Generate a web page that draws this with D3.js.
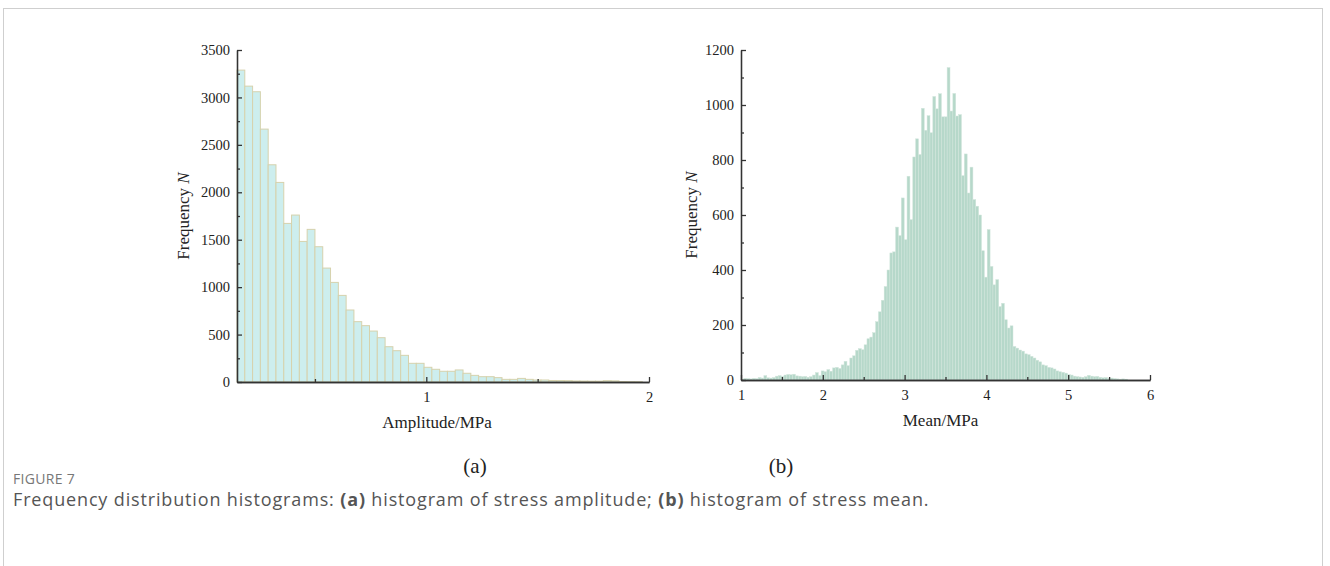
<!DOCTYPE html>
<html>
<head>
<meta charset="utf-8">
<script src="https://cdn.jsdelivr.net/npm/d3@7"></script>
<style>
  body { margin: 0; background: #fff; }
  svg { display: block; }
</style>
</head>
<body>
<svg id="fig" width="1330" height="566"></svg>
<script>
// ---- data -------------------------------------------------------------
// Histogram bins share one width (MPa); each series gives its first bin edge.
const binWidth = 0.035;

// (a) stress amplitude
const ampStart = 0.15;
const ampCounts = [
  3288, 3119, 3060, 2666, 2290, 2104, 1672, 1760, 1482, 1609,
  1426, 1201, 1050, 913, 759, 636, 594, 537, 467, 372,
  330, 281, 197, 197, 155, 134, 113, 113, 127, 92,
  70, 56, 56, 46, 28, 28, 38, 28, 21, 21,
  16, 15, 14, 11, 10, 9, 9, 14, 12, 5,
  4, 3
];

// (b) stress mean
const meanStart = 1.0;
const meanCounts = [
  3, 6, 5, 4, 6, 5, 9, 7, 16, 8,
  7, 9, 14, 16, 13, 18, 20, 19, 21, 15,
  14, 12, 13, 10, 12, 18, 27, 16, 33, 30,
  38, 32, 44, 46, 42, 55, 68, 52, 80, 88,
  108, 114, 110, 128, 150, 156, 172, 212, 248, 290,
  340, 400, 462, 466, 556, 525, 662, 510, 741, 583,
  811, 877, 820, 988, 908, 961, 899, 1031, 986, 1041,
  957, 957, 1136, 978, 1042, 960, 965, 743, 822, 680,
  774, 656, 632, 600, 470, 374, 547, 413, 346, 365,
  267, 279, 219, 189, 197, 122, 116, 109, 105, 95,
  92, 86, 80, 72, 66, 55, 52, 46, 44, 40,
  33, 30, 28, 25, 20, 18, 14, 12, 11, 10,
  12, 17, 14, 12, 13, 10, 8, 9, 6, 7,
  5, 4, 3, 4, 3
];

// axis ticks
const ampXTicks = [1, 2];
const ampXMinor = [0.5, 1.5];
const ampYTicks = [0, 500, 1000, 1500, 2000, 2500, 3000, 3500];
const ampYMinor = [250, 750, 1250, 1750, 2250, 2750, 3250];
const meanXTicks = [1, 2, 3, 4, 5, 6];
const meanXMinor = [1.5, 2.5, 3.5, 4.5, 5.5];
const meanYTicks = [0, 200, 400, 600, 800, 1000, 1200];
const meanYMinor = [100, 300, 500, 700, 900, 1100];

// ---- drawing ----------------------------------------------------------
const svg = d3.select("#fig");
const serif = "'Liberation Serif', 'Times New Roman', serif";
const axisColor = "#333";
const intFmt = d3.format("d");

// page frame
svg.append("rect")
  .attr("x", 3.5).attr("y", 8.5)
  .attr("width", 1319).attr("height", 560)
  .attr("fill", "none").attr("stroke", "#cfcfcf").attr("stroke-width", 1);

function histogram(opt) {
  const g = svg.append("g");
  const x = d3.scaleLinear().domain(opt.xDomain).range(opt.xRange);
  const y = d3.scaleLinear().domain(opt.yDomain).range(opt.yRange);

  const bins = opt.counts.map((c, i) => ({
    x0: opt.start + i * binWidth,
    x1: opt.start + (i + 1) * binWidth,
    n: c
  }));

  g.append("g").selectAll("rect")
    .data(bins)
    .join("rect")
    .attr("x", d => x(d.x0))
    .attr("width", d => x(d.x1) - x(d.x0))
    .attr("y", d => y(d.n))
    .attr("height", d => y(0) - y(d.n))
    .attr("fill", opt.fill)
    .attr("stroke", opt.stroke)
    .attr("stroke-width", opt.strokeWidth);

  const styleAxis = sel => {
    sel.selectAll("path, line").attr("stroke", axisColor).attr("stroke-width", 1.3);
    sel.selectAll("text")
      .attr("fill", "#222")
      .style("font-family", serif)
      .style("font-size", "14.5px");
  };

  // y axis: major + minor ticks pointing inward
  g.append("g")
    .attr("transform", `translate(${opt.xRange[0]},0)`)
    .call(d3.axisLeft(y).tickValues(opt.yTicks).tickSize(-5).tickSizeOuter(0).tickPadding(7).tickFormat(intFmt))
    .call(styleAxis);
  g.append("g")
    .attr("transform", `translate(${opt.xRange[0]},0)`)
    .call(d3.axisLeft(y).tickValues(opt.yMinor).tickSize(-3).tickSizeOuter(0).tickFormat(""))
    .call(styleAxis);

  // x axis
  g.append("g")
    .attr("transform", `translate(0,${opt.yRange[0]})`)
    .call(d3.axisBottom(x).tickValues(opt.xTicks).tickSize(-5).tickSizeOuter(0).tickPadding(10).tickFormat(intFmt))
    .call(styleAxis);
  g.append("g")
    .attr("transform", `translate(0,${opt.yRange[0]})`)
    .call(d3.axisBottom(x).tickValues(opt.xMinor).tickSize(-3).tickSizeOuter(0).tickFormat(""))
    .call(styleAxis);

  // axis titles
  g.append("text")
    .attr("x", (opt.xRange[0] + opt.xRange[1]) / 2 + opt.xTitleShift)
    .attr("y", opt.yRange[0] + 46)
    .attr("text-anchor", "middle")
    .style("font-family", serif).style("font-size", "17px").attr("fill", "#222")
    .text(opt.xTitle);

  const yt = g.append("text")
    .attr("transform", `translate(${opt.yTitleX},${(opt.yRange[0] + opt.yRange[1]) / 2}) rotate(-90)`)
    .attr("text-anchor", "middle")
    .style("font-family", serif).style("font-size", "17px").attr("fill", "#222");
  yt.append("tspan").text("Frequency ");
  yt.append("tspan").style("font-style", "italic").text("N");

  // panel label
  g.append("text")
    .attr("x", opt.labelX).attr("y", 473)
    .attr("text-anchor", "middle")
    .style("font-family", serif).style("font-size", "21px").attr("fill", "#222")
    .text(opt.label);
}

histogram({
  counts: ampCounts, start: ampStart,
  xDomain: [ampStart, 2], xRange: [237, 649],
  yDomain: [0, 3500], yRange: [382, 50],
  xTicks: ampXTicks, xMinor: ampXMinor, yTicks: ampYTicks, yMinor: ampYMinor,
  fill: "#cdeeee", stroke: "#d6d2ad", strokeWidth: 1,
  xTitle: "Amplitude/MPa", xTitleShift: -6, yTitleX: 189, label: "(a)", labelX: 475
});

histogram({
  counts: meanCounts, start: meanStart,
  xDomain: [1, 6], xRange: [741, 1150],
  yDomain: [0, 1200], yRange: [380, 50],
  xTicks: meanXTicks, xMinor: meanXMinor, yTicks: meanYTicks, yMinor: meanYMinor,
  fill: "#b6d8ca", stroke: "#d2e6dc", strokeWidth: 0.5,
  xTitle: "Mean/MPa", xTitleShift: -5, yTitleX: 697, label: "(b)", labelX: 781
});

// caption
const cap = svg.append("g").style("font-family", "'Open Sans', sans-serif");
cap.append("text")
  .attr("x", 13).attr("y", 484)
  .style("font-size", "14px").style("letter-spacing", "0.3px").attr("fill", "#777")
  .text("FIGURE 7");
const line = cap.append("text")
  .attr("x", 13).attr("y", 506)
  .style("font-size", "18px").style("letter-spacing", "0.85px").attr("fill", "#555");
line.append("tspan").text("Frequency distribution histograms: ");
line.append("tspan").style("font-weight", "700").text("(a)");
line.append("tspan").text(" histogram of stress amplitude; ");
line.append("tspan").style("font-weight", "700").text("(b)");
line.append("tspan").text(" histogram of stress mean.");
</script>
</body>
</html>
